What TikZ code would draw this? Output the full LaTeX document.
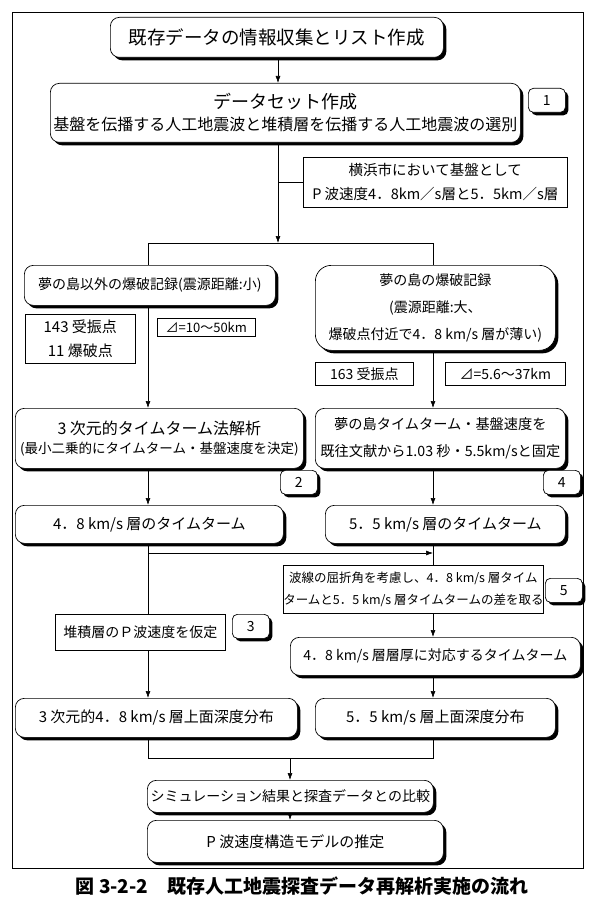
\documentclass[tikz,border=0pt]{standalone}
\usepackage{fontspec}
\setmainfont{Noto Sans CJK JP}
\usetikzlibrary{shadows,arrows.meta}
\tikzset{
  rbox/.style={draw, line width=0.7pt, rounded corners=9pt, fill=white, align=center, inner sep=0pt, anchor=north west,
    drop shadow={shadow xshift=3pt, shadow yshift=-3pt, fill=black, opacity=1}},
  sbox/.style={draw, line width=0.6pt, fill=white, align=center, inner sep=0pt, anchor=north west},
  badge/.style={rbox, rounded corners=5pt, minimum width=37pt, minimum height=24pt, font=\fontsize{14}{16}\selectfont},
  arr/.style={-{Latex[length=7pt,width=5pt]}, line width=0.6pt},
  ln/.style={line width=0.6pt},
  f13/.style={font=\fontsize{13}{22}\selectfont},
  f14/.style={font=\fontsize{14}{27}\selectfont},
  f15/.style={font=\fontsize{15}{27}\selectfont},
}
\begin{document}
\begin{tikzpicture}[x=1pt,y=-1pt]
\useasboundingbox (0,0) rectangle (596,904);
\node[draw, line width=1pt, anchor=north west, minimum width=571pt, minimum height=856pt, inner sep=0pt] (frame) at (12,12) {};

\coordinate (M) at (278,0);
\coordinate (L) at (148,0);
\coordinate (R) at (433,0);
\coordinate (B) at (290,0);

% top
\node[rbox, minimum width=333pt, minimum height=40pt, font=\fontsize{18.5}{22}\selectfont] (top) at (110,17) {既存データの情報収集とリスト作成};
\node[rbox, minimum width=470pt, minimum height=59pt] (ds) at (50,83)
  {{\fontsize{18}{22}\selectfont データセット作成}\\[6pt]{\fontsize{16}{20}\selectfont 基盤を伝播する人工地震波と堆積層を伝播する人工地震波の選別}};
\node[badge] (b1) at (528,88) {1};

\node[sbox, minimum width=264pt, minimum height=50pt, font=\fontsize{14.5}{24}\selectfont] (yoko) at (303,157)
  {横浜市において基盤として\\P 波速度4．8km／s層と5．5km／s層};

\coordinate (brM) at (278,243);
\coordinate (brL) at (148,243);
\coordinate (brR) at (433,243);

% branch
\node[rbox, minimum width=251pt, minimum height=40pt, f14] (lrec) at (24,265) {夢の島以外の爆破記録(震源距離:小)};
\node[rbox, rounded corners=16pt, minimum width=240pt, minimum height=85pt, font=\fontsize{14}{27}\selectfont] (rrec) at (315,265)
  {夢の島の爆破記録\\(震源距離:大、\\爆破点付近で4．8 km/s 層が薄い)};

\node[sbox, minimum width=110pt, minimum height=49pt, font=\fontsize{15}{24}\selectfont] (pts) at (25,314) {143 受振点\\11 爆破点};
\node[sbox, minimum width=98pt, minimum height=18pt, f13] (dl1) at (157,318) {⊿=10〜50km};
\node[sbox, minimum width=98pt, minimum height=23pt, f14] (pts2) at (315,362) {163 受振点};
\node[sbox, minimum width=120pt, minimum height=23pt, f14] (dl2) at (445,362) {⊿=5.6〜37km};

% analysis
\node[rbox, minimum width=288pt, minimum height=60pt] (tt3) at (15,408)
  {{\fontsize{16}{20}\selectfont 3 次元的タイムターム法解析}\\[5pt]{\fontsize{13.5}{16}\selectfont (最小二乗的にタイムターム・基盤速度を決定)}};
\node[badge] (b2) at (280,470) {2};
\node[rbox, minimum width=250pt, minimum height=60pt, font=\fontsize{14.2}{27}\selectfont] (yume) at (315,408)
  {夢の島タイムターム・基盤速度を\\既往文献から1.03 秒・5.5km/sと固定};
\node[badge] (b4) at (543,470) {4};

\node[rbox, minimum width=268pt, minimum height=38pt, f15] (t48) at (15,505) {4．8 km/s 層のタイムターム};
\node[rbox, minimum width=240pt, minimum height=38pt, f15] (t55) at (325,505) {5．5 km/s 層のタイムターム};

\node[sbox, minimum width=254pt, minimum height=48pt, font=\fontsize{12.5}{22}\selectfont] (diff) at (283,565)
  {波線の屈折角を考慮し、4．8 km/s 層タイム\\タームと5．5 km/s 層タイムタームの差を取る};
\node[badge] (b5) at (545,578) {5};
\node[sbox, minimum width=170pt, minimum height=36pt, f14] (assume) at (55,614) {堆積層のＰ波速度を仮定};
\node[badge] (b3) at (232,614) {3};

\node[rbox, minimum width=290pt, minimum height=38pt, f14] (thick) at (290,637) {4．8 km/s 層層厚に対応するタイムターム};

\node[rbox, minimum width=282pt, minimum height=39pt, f15] (d48) at (15,698) {3 次元的4．8 km/s 層上面深度分布};
\node[rbox, minimum width=240pt, minimum height=39pt, f15] (d55) at (315,698) {5．5 km/s 層上面深度分布};

\node[rbox, minimum width=286pt, minimum height=32pt, font=\fontsize{14}{17}\selectfont] (sim) at (147,780) {シミュレーション結果と探査データとの比較};
\node[rbox, minimum width=296pt, minimum height=42pt, f15] (pm) at (147,820) {P 波速度構造モデルの推定};

\node[font=\fontsize{19}{22}\selectfont\bfseries] (cap) at (302,886) {図 3-2-2\quad 既存人工地震探査データ再解析実施の流れ};

% connectors
\draw[arr] (top.south -| M) -- (ds.north -| M);
\draw[arr] (ds.south -| M) -- (brM);
\draw[ln] (brM |- yoko.west) -- (yoko.west);
\draw[ln] (brL) -- (brR);
\draw[ln] (brL) -- (lrec.north -| L);
\draw[ln] (brR) -- (rrec.north -| R);
\draw[arr] (lrec.south -| L) -- (tt3.north -| L);
\draw[arr] (rrec.south -| R) -- (yume.north -| R);
\draw[arr] (tt3.south -| L) -- (t48.north -| L);
\draw[arr] (yume.south -| R) -- (t55.north -| R);
\draw[ln] (t48.south -| L) -- (assume.north -| L);
\draw[arr] (assume.south -| L) -- (d48.north -| L);
\coordinate (h1) at (148,553);
\coordinate (h2) at (433,553);
\draw[arr] (h1) -- (h2);
\draw[ln] (t55.south -| R) -- (diff.north -| R);
\draw[arr] (diff.south -| R) -- (thick.north -| R);
\draw[arr] (thick.south -| R) -- (d55.north -| R);
\coordinate (mL) at (148,758);
\coordinate (mR) at (433,758);
\coordinate (mB) at (290,758);
\draw[ln] (d48.south -| L) -- (mL) -- (mR) -- (d55.south -| R);
\draw[arr] (mB) -- (sim.north -| B);
\draw[arr] (sim.south -| B) -- (pm.north -| B);
\end{tikzpicture}
\end{document}
